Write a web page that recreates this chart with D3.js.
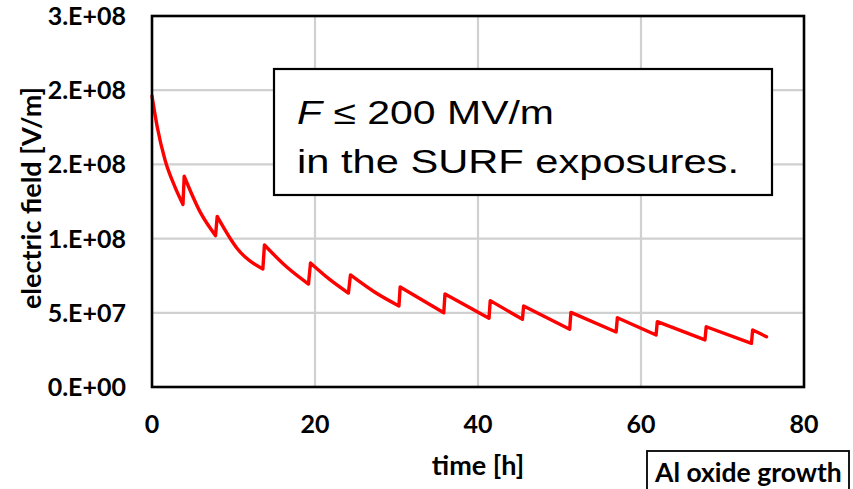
<!DOCTYPE html>
<html>
<head>
<meta charset="utf-8">
<script src="https://cdn.jsdelivr.net/npm/d3@7"></script>
<style>
  body { margin: 0; background: #fff; }
  svg { display: block; }
</style>
</head>
<body>
<svg id="chart"></svg>
<script>
// field decay with re-charging jumps
var timeH = [0, 0.65, 1.6, 2.8, 3.8, 3.95, 5.9, 7.8, 8.0, 10.5, 13.6, 13.8, 16.5, 19.2,
  19.45, 21.8, 24.1, 24.35, 27.3, 30.3, 30.45, 35.8, 35.95, 41.35, 41.5, 45.45, 45.6,
  51.25, 51.4, 56.95, 57.1, 61.85, 62.0, 67.85, 68.0, 73.55, 73.7, 75.4]
var fieldVm = [1.96e8, 1.75e8, 1.53e8, 1.35e8, 1.23e8, 1.42e8, 1.18e8, 1.02e8, 1.15e8,
  0.93e8, 0.795e8, 0.957e8, 0.81e8, 0.694e8, 0.836e8, 0.725e8, 0.633e8, 0.755e8, 0.64e8,
  0.546e8, 0.674e8, 0.50e8, 0.627e8, 0.463e8, 0.582e8, 0.456e8, 0.546e8, 0.389e8,
  0.503e8, 0.371e8, 0.467e8, 0.35e8, 0.44e8, 0.317e8, 0.406e8, 0.294e8, 0.384e8, 0.339e8]

var xTicks = [0, 20, 40, 60, 80]
var yTicks = [0, 5e7, 1e8, 1.5e8, 2e8, 2.5e8]
var yTickLabels = ["0.E+00", "5.E+07", "1.E+08", "2.E+08", "2.E+08", "3.E+08"]

var dimensions = {
  width: 853,
  height: 489,
  margin: { top: 16, bottom: 102, right: 49, left: 152 }
}

var svg = d3.select("#chart")
  .attr("width", dimensions.width)
  .attr("height", dimensions.height)

var xScale = d3.scaleLinear()
  .domain([0, 80])
  .range([dimensions.margin.left, dimensions.width - dimensions.margin.right])

var yScale = d3.scaleLinear()
  .domain([0, 2.5e8])
  .range([dimensions.height - dimensions.margin.bottom, dimensions.margin.top])

var labelFont = "Lato, 'DejaVu Sans', sans-serif"

// grid
svg.append("g")
  .selectAll("line")
  .data(xTicks.slice(1, -1))
  .enter().append("line")
  .attr("x1", d => xScale(d)).attr("x2", d => xScale(d))
  .attr("y1", yScale(0)).attr("y2", yScale(2.5e8))
  .attr("stroke", "#d0d0d0").attr("stroke-width", 2.2)

svg.append("g")
  .selectAll("line")
  .data(yTicks.slice(1, -1))
  .enter().append("line")
  .attr("x1", xScale(0)).attr("x2", xScale(80))
  .attr("y1", d => yScale(d)).attr("y2", d => yScale(d))
  .attr("stroke", "#d0d0d0").attr("stroke-width", 2.2)

// data line: each decay run smoothed, the jumps drawn straight
var points = timeH.map((t, i) => [t, fieldVm[i]])
var runs = [[points[0]]]
for (var i = 1; i < points.length; i++) {
  if (points[i][1] > points[i - 1][1]) runs.push([])
  runs[runs.length - 1].push(points[i])
}

var runLine = d3.line()
  .x(d => xScale(d[0]))
  .y(d => yScale(d[1]))
  .curve(d3.curveMonotoneX)

var pathD = runs.map((r, k) => {
  var s = runLine(r)
  return k === 0 ? s : "L" + s.slice(1)
}).join("")

svg.append("path")
  .attr("d", pathD)
  .attr("fill", "none")
  .attr("stroke", "#ff0000")
  .attr("stroke-width", 3.4)
  .attr("stroke-linejoin", "round")
  .attr("stroke-linecap", "round")

// plot border
svg.append("rect")
  .attr("x", xScale(0))
  .attr("y", yScale(2.5e8))
  .attr("width", xScale(80) - xScale(0))
  .attr("height", yScale(0) - yScale(2.5e8))
  .attr("fill", "none")
  .attr("stroke", "#000")
  .attr("stroke-width", 2.6)

// tick labels
svg.append("g")
  .selectAll("text")
  .data(xTicks)
  .enter().append("text")
  .attr("x", d => xScale(d))
  .attr("y", 433)
  .attr("text-anchor", "middle")
  .style("font-family", labelFont)
  .style("font-weight", "bold")
  .style("font-size", "25px")
  .attr("fill", "#000")
  .text(d => d)

svg.append("g")
  .selectAll("text")
  .data(yTicks)
  .enter().append("text")
  .attr("x", 126)
  .attr("y", d => yScale(d) + 9)
  .attr("text-anchor", "end")
  .style("font-family", labelFont)
  .style("font-weight", "bold")
  .style("font-size", "25px")
  .attr("fill", "#000")
  .text((d, i) => yTickLabels[i])

// axis titles
svg.append("text")
  .attr("text-anchor", "middle")
  .attr("transform", "translate(41, 198) rotate(-90)")
  .style("font-family", labelFont)
  .style("font-weight", "bold")
  .style("font-size", "27px")
  .attr("fill", "#000")
  .text("electric field [V/m]")

svg.append("text")
  .attr("x", 478)
  .attr("y", 475)
  .attr("text-anchor", "middle")
  .style("font-family", labelFont)
  .style("font-weight", "bold")
  .style("font-size", "27px")
  .attr("fill", "#000")
  .text("time [h]")

// annotation box
var note = svg.append("g")
note.append("rect")
  .attr("x", 274).attr("y", 69)
  .attr("width", 498).attr("height", 126)
  .attr("fill", "#fff")
  .attr("stroke", "#000")
  .attr("stroke-width", 2.2)

var line1 = note.append("text")
  .attr("x", 297).attr("y", 124)
  .attr("textLength", 257)
  .attr("lengthAdjust", "spacingAndGlyphs")
  .style("font-family", "'Liberation Sans', Arial, sans-serif")
  .style("font-size", "33px")
  .attr("fill", "#000")
line1.append("tspan").style("font-style", "italic").text("F")
line1.append("tspan").text(" \u2264 200 MV/m")

note.append("text")
  .attr("x", 297).attr("y", 173)
  .attr("textLength", 442)
  .attr("lengthAdjust", "spacingAndGlyphs")
  .style("font-family", "'Liberation Sans', Arial, sans-serif")
  .style("font-size", "33px")
  .attr("fill", "#000")
  .text("in the SURF exposures.")

// side label box
svg.append("rect")
  .attr("x", 647).attr("y", 451)
  .attr("width", 202).attr("height", 50)
  .attr("fill", "#fff")
  .attr("stroke", "#000")
  .attr("stroke-width", 1.8)

svg.append("text")
  .attr("x", 655).attr("y", 482)
  .style("font-family", labelFont)
  .style("font-weight", "bold")
  .style("font-size", "26.5px")
  .attr("fill", "#000")
  .text("Al oxide growth")
</script>
</body>
</html>
